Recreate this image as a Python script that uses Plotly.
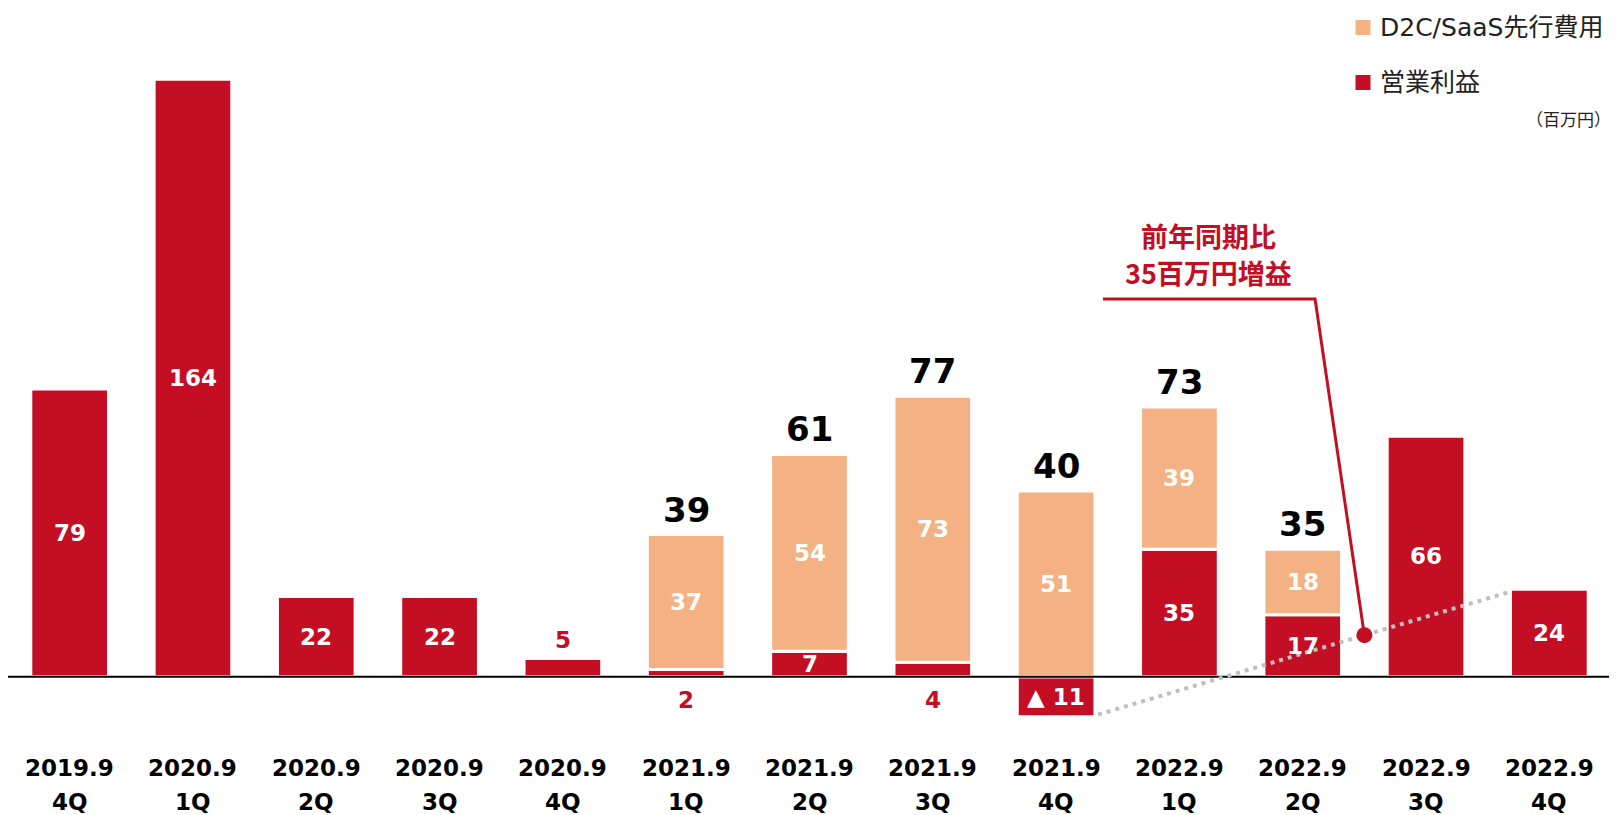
import plotly.graph_objects as go

# ---- data ----
period_year = ["2019.9", "2020.9", "2020.9", "2020.9", "2020.9", "2021.9", "2021.9",
               "2021.9", "2021.9", "2022.9", "2022.9", "2022.9", "2022.9"]
period_q = ["4Q", "1Q", "2Q", "3Q", "4Q", "1Q", "2Q", "3Q", "4Q", "1Q", "2Q", "3Q", "4Q"]
op_profit = [79, 164, 22, 22, 5, 2, 7, 4, -11, 35, 17, 66, 24]          # 営業利益
d2c_cost = [None, None, None, None, None, 37, 54, 73, 51, 39, 18, None, None]  # D2C/SaaS先行費用
totals = [None, None, None, None, None, 39, 61, 77, 40, 73, 35, None, None]
series_names = ["D2C/SaaS先行費用", "営業利益"]
unit_label = "（百万円）"
callout_lines = ["前年同期比", "35百万円増益"]

RED = "#C40E24"
ORANGE = "#F4B183"
GRAY = "#BFBFBF"
LATIN = "DejaVu Sans, Noto Sans CJK JP, sans-serif"
CJK = "Noto Sans CJK JP, DejaVu Sans, sans-serif"

# page body has an 8px margin: figure coordinates = screen coordinates - 8
OFF = 8
W, H = 1617 - OFF, 815 - OFF
PLOT_L, PLOT_R, PLOT_T = 0, 6, 0
PLOT_W = W - PLOT_L - PLOT_R
PLOT_H = H - PLOT_T
ppu = 3.643
base_px = 676.7 - OFF          # baseline in figure pixels


def py(screen_y):
    return 1 - (screen_y - OFF - PLOT_T) / PLOT_H


def px(screen_x):
    return (screen_x - OFF - PLOT_L) / PLOT_W


x = list(range(len(op_profit)))

fig = go.Figure()
fig.add_bar(x=x, y=op_profit, name=series_names[1], width=0.63,
            marker=dict(color=RED, line=dict(color="white", width=3)),
            showlegend=False, hoverinfo="skip")
fig.add_bar(x=x, y=d2c_cost, name=series_names[0], width=0.63,
            marker=dict(color=ORANGE, line=dict(color="white", width=3)),
            showlegend=False, hoverinfo="skip")

ann = []
lab_font = dict(family=LATIN, size=23, weight="bold")
for i, v in enumerate(op_profit):
    c = d2c_cost[i]
    if v < 0:
        ann.append(dict(x=i, y=v / 2, text="▲ " + str(-v), showarrow=False,
                        font=dict(lab_font, color="white")))
    elif v < 6:
        if c is not None:
            ann.append(dict(x=i, y=0, yshift=-23, text=str(v), showarrow=False,
                            font=dict(lab_font, color=RED)))
        else:
            ann.append(dict(x=i, y=v, yshift=18, text=str(v), showarrow=False,
                            font=dict(lab_font, color=RED)))
    else:
        ann.append(dict(x=i, y=v / 2, text=str(v), showarrow=False,
                        font=dict(lab_font, color="white")))
    if c is not None:
        base = max(v, 0)
        ann.append(dict(x=i, y=base + c / 2, text=str(c), showarrow=False,
                        font=dict(lab_font, color="white")))
    if totals[i] is not None:
        top = max(v, 0) + (c or 0)
        ann.append(dict(x=i, y=top, yshift=25, text=str(totals[i]), showarrow=False,
                        font=dict(family=LATIN, size=34, weight="bold", color="black")))
    # category labels
    ann.append(dict(x=i, y=py(768.3), yref="paper", yanchor="middle", text=period_year[i],
                    showarrow=False,
                    font=dict(family=LATIN, size=23, weight="bold", color="black")))
    ann.append(dict(x=i, y=py(801.7), yref="paper", yanchor="middle", text=period_q[i],
                    showarrow=False,
                    font=dict(family=LATIN, size=23, weight="bold", color="black")))

ann.append(dict(x=px(1613), xref="paper", xanchor="right", y=py(118), yref="paper",
                yanchor="middle", text=unit_label, showarrow=False,
                font=dict(family=CJK, size=17, color="#222222")))
for line, sy in zip(callout_lines, [235.8, 272.5]):
    ann.append(dict(x=px(1208), xref="paper", xanchor="center", y=py(sy), yref="paper",
                    yanchor="middle", text=line, showarrow=False,
                    font=dict(family=CJK, size=27, weight="bold", color=RED)))

shapes = [
    # baseline
    dict(type="line", xref="paper", x0=0, x1=1, y0=0, y1=0, line=dict(color="black", width=2),
         layer="above"),
    # dotted comparison line (2021.9 4Q -> 2022.9 4Q)
    dict(type="line", x0=8.34, y0=-10.4, x1=11.68, y1=23.3,
         line=dict(color=GRAY, width=4, dash="4px,5px"), layer="above"),
    # leader line
    dict(type="path", path="M 8.38 103.7 L 10.1 103.7 L 10.5 11.4",
         line=dict(color=RED, width=3), layer="above"),
    dict(type="circle", xsizemode="pixel", ysizemode="pixel", xanchor=10.5, yanchor=11.4,
         x0=-8, x1=8, y0=-8, y1=8, fillcolor=RED, line=dict(color=RED, width=0), layer="above"),
]

# legend (drawn as swatches + labels)
for name, color, sy in zip(series_names, [ORANGE, RED], [27.5, 82.5]):
    shapes.append(dict(type="rect", xref="paper", yref="paper",
                       xsizemode="pixel", ysizemode="pixel",
                       xanchor=px(1363), yanchor=py(sy), x0=-7.5, x1=7.5, y0=-7.5, y1=7.5,
                       fillcolor=color, line=dict(width=0), layer="above"))
    ann.append(dict(x=px(1378), xref="paper", xanchor="left", y=py(sy), yref="paper",
                    yanchor="middle", text=name, showarrow=False,
                    font=dict(family=LATIN, size=25, color="#222222")))

fig.update_layout(
    width=W, height=H,
    margin=dict(l=PLOT_L, r=PLOT_R, t=PLOT_T, b=0),
    barmode="relative",
    plot_bgcolor="white", paper_bgcolor="white",
    xaxis=dict(range=[-0.5, 12.5], showticklabels=False, showgrid=False, zeroline=False,
               ticks=""),
    yaxis=dict(range=[-(H - base_px) / ppu, (base_px - PLOT_T) / ppu], showticklabels=False,
               showgrid=False, zeroline=False),
    showlegend=False,
    annotations=ann,
    shapes=shapes,
)

fig.write_html("out.html")
